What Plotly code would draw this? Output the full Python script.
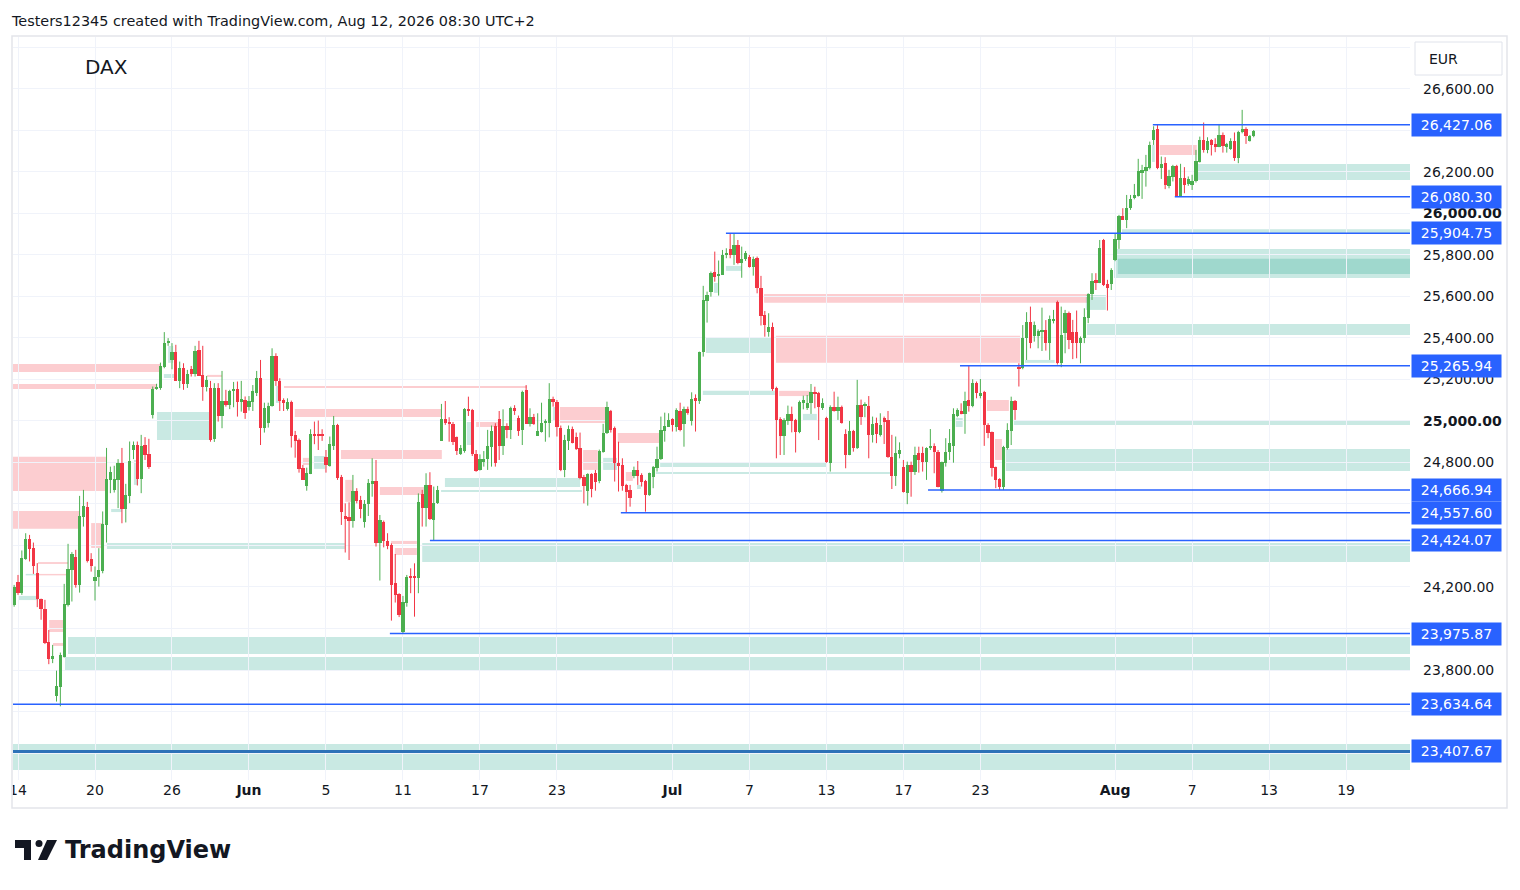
import plotly.graph_objects as go

# DAX, 2h candles from 13 May to 12 Aug 2026 (bar index on the x axis)
opens = [
    24111, 24225, 24173, 24337, 24432, 24388, 24266, 24141, 24093, 23936,
    23852, 23675, 23720, 23865, 24114, 24282, 24344, 24210, 24539, 24584,
    24334, 24231, 24246, 24279, 24501, 24716, 24668, 24716, 24796, 24578,
    24639, 24861, 24885, 24721, 24885, 24840, 25029, 25153, 25158, 25262,
    25375, 25294, 25330, 25193, 25254, 25179, 25249, 25227, 25342, 25222,
    25166, 25158, 24914, 25158, 25024, 25097, 25078, 25142, 25153, 25089,
    25102, 25069, 25093, 25136, 25206, 24968, 24989, 25072, 25313, 25194,
    25101, 25059, 25093, 24933, 24908, 24772, 24688, 24744, 24936, 24933,
    24933, 24828, 24783, 24880, 24981, 24732, 24542, 24539, 24520, 24663,
    24619, 24515, 24600, 24696, 24711, 24414, 24515, 24422, 24403, 24218,
    24165, 23985, 24125, 24253, 24253, 24245, 24647, 24582, 24692, 24523,
    24603, 24905, 25008, 24997, 24986, 24921, 24841, 24857, 25058, 25053,
    24841, 24764, 24804, 24817, 24876, 24976, 25008, 24880, 24976, 24957,
    25061, 25016, 24957, 25149, 24986, 25021, 24928, 24949, 24989, 24992,
    25104, 25093, 24968, 24764, 24905, 24962, 24925, 24868, 24732, 24664,
    24745, 24751, 24713, 24852, 24941, 25048, 24965, 24799, 24788, 24692,
    24668, 24735, 24764, 24740, 24711, 24644, 24732, 24775, 24815, 24954,
    24973, 25010, 24973, 25050, 24986, 25058, 25002, 25109, 25098, 25331,
    25578, 25623, 25719, 25700, 25704, 25800, 25829, 25800, 25848, 25760,
    25781, 25789, 25744, 25784, 25639, 25511, 25431, 25455, 25161, 25008,
    24928, 25002, 25034, 25005, 24946, 25088, 25064, 25085, 25141, 25136,
    25064, 25016, 24799, 25069, 25048, 25069, 24937, 24837, 24952, 24872,
    25077, 25074, 25072, 24933, 24989, 24933, 25013, 25005, 24828, 24737,
    24842, 24780, 24655, 24788, 24756, 24844, 24844, 24804, 24871, 24881,
    24852, 24664, 24799, 24849, 24881, 25024, 25048, 25034, 25101, 25072,
    25185, 25121, 25140, 24981, 24946, 24777, 24719, 24680, 24868, 24952,
    25098, 25262, 25254, 25398, 25475, 25409, 25411, 25433, 25438, 25377,
    25486, 25575, 25278, 25422, 25522, 25428, 25428, 25378, 25399, 25495,
    25611, 25680, 25667, 25872, 25660, 25659, 25776, 25872, 25988, 25969,
    26025, 26073, 26084, 26194, 26206, 26218, 26354, 26406, 26218, 26242,
    26133, 26175, 26229, 26080, 26170, 26141, 26138, 26154, 26250, 26354,
    26306, 26354, 26335, 26322, 26378, 26322, 26309, 26349, 26269, 26390,
    26406, 26351, 26374,
]
highs = [
    24210, 24258, 24376, 24459, 24451, 24414, 24315, 24144, 24138, 23993,
    23921, 23797, 23884, 24215, 24408, 24368, 24379, 24639, 24668, 24610,
    24363, 24299, 24387, 24564, 24870, 24780, 24784, 24816, 24870, 24697,
    24901, 24901, 24901, 24933, 24922, 24914, 25166, 25179, 25281, 25428,
    25399, 25375, 25367, 25286, 25278, 25246, 25265, 25362, 25386, 25362,
    25217, 25193, 25182, 25182, 25241, 25150, 25150, 25188, 25190, 25193,
    25118, 25120, 25173, 25241, 25294, 25088, 25088, 25350, 25326, 25206,
    25109, 25109, 25098, 24952, 24915, 24788, 24775, 24960, 24997, 25002,
    24960, 24860, 24925, 25024, 24986, 24740, 24603, 24608, 24740, 24676,
    24639, 24619, 24720, 24820, 24812, 24547, 24520, 24459, 24410, 24359,
    24170, 24157, 24258, 24290, 24314, 24651, 24668, 24748, 24753, 24684,
    24687, 25082, 25096, 25018, 24995, 24925, 24884, 25062, 25117, 25058,
    24860, 24839, 24855, 24957, 24978, 24989, 25048, 25056, 24989, 25069,
    25076, 25026, 25146, 25173, 25061, 25034, 25037, 25088, 25008, 25182,
    25117, 25101, 24978, 24933, 24978, 24973, 24944, 24944, 24740, 24748,
    24748, 24764, 24862, 24986, 25093, 25053, 24973, 24900, 24820, 24697,
    24692, 24780, 24807, 24748, 24716, 24751, 24783, 24876, 25021, 25040,
    25037, 25013, 25061, 25088, 25069, 25069, 25138, 25128, 25334, 25651,
    25623, 25720, 25816, 25773, 25824, 25832, 25904, 25904, 25872, 25840,
    25819, 25800, 25792, 25792, 25699, 25530, 25519, 25474, 25165, 25018,
    25013, 25074, 25069, 25010, 25098, 25122, 25125, 25178, 25165, 25140,
    25109, 25020, 25075, 25141, 25117, 25074, 24960, 25000, 24957, 25198,
    25103, 25090, 25120, 25021, 25016, 25037, 25021, 25048, 24933, 24925,
    24897, 24812, 24804, 24804, 24876, 24876, 24876, 24873, 24961, 24892,
    24860, 24804, 24917, 24961, 25061, 25061, 25085, 25141, 25266, 25201,
    25190, 25202, 25145, 24989, 24949, 24780, 24724, 24880, 24989, 25117,
    25101, 25278, 25462, 25524, 25551, 25479, 25441, 25546, 25486, 25508,
    25535, 25580, 25551, 25535, 25527, 25487, 25532, 25407, 25543, 25615,
    25712, 25712, 25872, 25877, 25680, 25736, 25905, 25993, 26025, 26089,
    26089, 26142, 26263, 26234, 26282, 26346, 26420, 26427, 26274, 26271,
    26210, 26234, 26234, 26239, 26223, 26178, 26186, 26306, 26370, 26438,
    26367, 26358, 26362, 26431, 26390, 26340, 26362, 26390, 26398, 26499,
    26415, 26378, 26402,
]
lows = [
    24105, 24162, 24162, 24331, 24323, 24263, 24103, 24042, 23925, 23828,
    23833, 23648, 23625, 23860, 24106, 24130, 24197, 24173, 24491, 24318,
    24274, 24135, 24202, 24266, 24414, 24652, 24655, 24580, 24507, 24511,
    24604, 24816, 24689, 24652, 24812, 24769, 25012, 25150, 25150, 25254,
    25362, 25249, 25193, 25158, 25150, 25159, 25214, 25214, 25217, 25097,
    25142, 24900, 24899, 24997, 24965, 25069, 25057, 25066, 25021, 25045,
    25010, 25050, 25048, 25120, 24884, 24944, 24968, 25069, 25169, 25048,
    25048, 25050, 24872, 24823, 24751, 24716, 24664, 24744, 24888, 24860,
    24904, 24751, 24780, 24860, 24716, 24499, 24366, 24330, 24486, 24603,
    24531, 24486, 24542, 24635, 24395, 24231, 24391, 24382, 24038, 24125,
    24055, 23976, 24105, 24170, 24057, 24170, 24491, 24491, 24523, 24424,
    24600, 24904, 24981, 24900, 24884, 24836, 24836, 24847, 25024, 24831,
    24755, 24761, 24780, 24764, 24780, 24780, 24812, 24836, 24917, 24913,
    25029, 24928, 24884, 24986, 24973, 24981, 24928, 24944, 24900, 24921,
    25069, 24925, 24758, 24729, 24860, 24892, 24860, 24719, 24603, 24592,
    24632, 24664, 24700, 24847, 24937, 24944, 24708, 24660, 24664, 24558,
    24587, 24724, 24692, 24684, 24563, 24639, 24676, 24756, 24812, 24900,
    24973, 24949, 24949, 24950, 24876, 25030, 24978, 24949, 25082, 25310,
    25474, 25599, 25671, 25604, 25704, 25784, 25784, 25752, 25755, 25690,
    25771, 25739, 25700, 25615, 25460, 25406, 25406, 25145, 24820, 24836,
    24836, 24981, 24945, 24848, 24941, 25056, 25053, 25034, 25061, 24908,
    25053, 24798, 24756, 25045, 25005, 24987, 24772, 24835, 24852, 24865,
    24981, 25018, 24820, 24896, 24893, 24925, 24889, 24822, 24672, 24687,
    24820, 24655, 24599, 24635, 24740, 24751, 24756, 24716, 24860, 24748,
    24680, 24655, 24780, 24812, 24799, 25018, 25032, 24938, 25045, 25066,
    25109, 25109, 24880, 24917, 24732, 24676, 24667, 24667, 24862, 24884,
    25005, 25166, 25249, 25294, 25350, 25382, 25350, 25337, 25339, 25294,
    25470, 25272, 25259, 25326, 25346, 25298, 25302, 25278, 25375, 25471,
    25583, 25631, 25664, 25650, 25532, 25631, 25770, 25829, 25969, 25929,
    26017, 26068, 26081, 26070, 26129, 26212, 26330, 26213, 26166, 26117,
    26121, 26154, 26080, 26080, 26097, 26133, 26113, 26149, 26245, 26293,
    26290, 26279, 26295, 26319, 26293, 26293, 26306, 26253, 26242, 26386,
    26335, 26346, 26367,
]
closes = [
    24202, 24173, 24340, 24432, 24385, 24299, 24141, 24093, 23932, 23852,
    23868, 23724, 23873, 24119, 24286, 24360, 24210, 24543, 24591, 24327,
    24299, 24249, 24282, 24504, 24719, 24755, 24719, 24796, 24578, 24644,
    24806, 24885, 24721, 24880, 24837, 24776, 25155, 25166, 25265, 25375,
    25386, 25330, 25193, 25254, 25179, 25227, 25227, 25338, 25217, 25166,
    25198, 24909, 25158, 25024, 25097, 25078, 25145, 25153, 25089, 25105,
    25040, 25096, 25145, 25206, 24968, 25061, 25072, 25313, 25194, 25098,
    25088, 25093, 24928, 24904, 24769, 24716, 24748, 24937, 24931, 24928,
    24928, 24788, 24888, 24981, 24727, 24563, 24528, 24520, 24663, 24615,
    24576, 24600, 24703, 24711, 24414, 24523, 24422, 24398, 24210, 24162,
    24065, 24128, 24250, 24247, 24242, 24608, 24582, 24692, 24526, 24607,
    24668, 25008, 24992, 24984, 24900, 24857, 24868, 25058, 25050, 24841,
    24761, 24815, 24819, 24880, 24954, 24796, 24880, 24976, 24957, 25061,
    25048, 24953, 25141, 24986, 25021, 24986, 24953, 24989, 25002, 25104,
    25093, 24973, 24764, 24909, 24962, 24896, 24864, 24724, 24689, 24745,
    24674, 24708, 24857, 24942, 25069, 24957, 24796, 24783, 24687, 24660,
    24631, 24764, 24735, 24706, 24644, 24748, 24780, 24817, 24957, 24976,
    25005, 24981, 25053, 24958, 25058, 25040, 25106, 25098, 25331, 25583,
    25607, 25711, 25695, 25707, 25800, 25810, 25800, 25848, 25760, 25781,
    25808, 25744, 25781, 25639, 25508, 25460, 25455, 25153, 25005, 24928,
    25005, 25034, 25002, 24946, 25093, 25101, 25085, 25138, 25133, 25069,
    25085, 24804, 25069, 25050, 25069, 24992, 24836, 24952, 24872, 25077,
    25018, 25082, 24933, 24986, 24936, 24981, 24997, 24828, 24737, 24848,
    24861, 24660, 24788, 24756, 24836, 24812, 24804, 24871, 24881, 24852,
    24684, 24801, 24849, 24892, 25032, 25053, 25034, 25098, 25072, 25185,
    25133, 25133, 24981, 24944, 24775, 24716, 24680, 24876, 24957, 25098,
    25053, 25254, 25398, 25475, 25377, 25462, 25433, 25438, 25377, 25491,
    25491, 25278, 25414, 25522, 25390, 25378, 25378, 25402, 25500, 25611,
    25672, 25667, 25832, 25656, 25643, 25728, 25876, 25988, 25969, 26025,
    26068, 26089, 26206, 26210, 26223, 26330, 26402, 26218, 26239, 26138,
    26181, 26229, 26080, 26170, 26138, 26166, 26158, 26253, 26354, 26306,
    26351, 26330, 26322, 26378, 26325, 26335, 26351, 26269, 26394, 26406,
    26374, 26374, 26398,
]

# time axis (bar index of each labelled day)
tick_bars = [1, 21, 41, 61, 81, 101, 121, 141, 171, 191, 211, 231, 251, 286, 306, 326, 346]
tick_labels = ['14', '20', '26', '<b>Jun</b>', '5', '11', '17', '23', '<b>Jul</b>',
               '7', '13', '17', '23', '<b>Aug</b>', '7', '13', '19']

# price axis
price_ticks = [23400, 23600, 23800, 24000, 24200, 24400, 24600, 24800, 25000,
               25200, 25400, 25600, 25800, 26000, 26200, 26400, 26600, 26800]
price_labels = ['', '', '23,800.00', '24,000.00', '24,200.00', '', '', '24,800.00',
                '<b>25,000.00</b>', '25,200.00', '25,400.00', '25,600.00', '25,800.00',
                '<b>26,000.00</b>', '26,200.00', '', '26,600.00', '']

# horizontal levels: price and first bar
level_prices = [26427.06, 26080.30, 25904.75, 25265.94, 24666.94,
                24557.60, 24424.07, 23975.87, 23634.64]
level_start = [295.8, 301.5, 184.9, 245.7, 237.4, 157.6, 108.0, 97.6, -0.3]
base_level = 23407.67

# zones: (first bar, last bar or None = right edge, top, bottom)
supply_zones = [
    (-0.3, 37.9, 25275, 25236), (-0.3, 37.1, 25178, 25154), (-0.3, 24.1, 24827, 24663),
    (-0.3, 17.1, 24566, 24480), (20.0, 23.1, 24508, 24388), (6.2, 14.0, 24320, 24311),
    (6.2, 13.5, 24263, 24256), (9.1, 13.2, 24041, 23983), (10.1, 13.2, 23930, 23916),
    (50.1, 54.0, 25222, 25212), (70.1, 133.2, 25169, 25159), (72.9, 111.0, 25058, 25019),
    (84.9, 111.1, 24860, 24817), (95.0, 106.7, 24682, 24643), (97.9, 104.6, 24422, 24407),
    (98.9, 104.6, 24388, 24354), (86.0, 88.0, 24716, 24610), (75.0, 77.4, 24822, 24788),
    (120.0, 125.7, 24995, 24971), (141.8, 153.7, 25067, 24990), (147.8, 151.6, 24860, 24764),
    (156.8, 167.5, 24942, 24894), (158.9, 160.7, 24754, 24711), (194.8, 278.7, 25612, 25569),
    (197.9, 261.3, 25410, 25280), (198.7, 206.7, 25145, 25120), (252.7, 258.4, 25101, 25048),
    (254.8, 256.6, 24913, 24812), (297.6, 307.2, 26330, 26282),
]
demand_zones = [
    (37.1, 50.9, 25043, 24908), (38.9, 41.8, 25226, 25207), (40.0, 41.3, 25361, 25280),
    (24.1, 85.9, 24412, 24383), (1.0, 6.2, 24157, 24137), (3.0, 6.2, 24263, 24256),
    (25.2, 28.0, 24576, 24561), (31.1, 32.2, 24812, 24692), (14.0, None, 23959, 23877),
    (13.2, None, 23863, 23795), (106.0, None, 24412, 24320), (111.9, 147.0, 24725, 24682),
    (110.9, 147.5, 24667, 24658), (77.9, 81.0, 24831, 24769), (68.0, 68.8, 25169, 25087),
    (117.6, 118.7, 24995, 24884), (140.0, 141.0, 25067, 25000), (153.0, 156.6, 24822, 24764),
    (161.8, 162.8, 24692, 24672), (167.8, 211.1, 24802, 24778), (166.7, 227.5, 24754, 24745),
    (179.7, 196.6, 25405, 25328), (178.9, 197.6, 25145, 25125), (184.9, 189.0, 25747, 25723),
    (181.8, 182.8, 25665, 25617), (204.9, 208.5, 25034, 25000), (244.6, 246.4, 25014, 24971),
    (259.7, None, 25005, 24981), (257.6, None, 24865, 24759), (262.6, 270.3, 25294, 25280),
    (278.4, 283.6, 25607, 25535), (278.7, None, 25467, 25414), (285.7, None, 25829, 25689),
    (286.7, None, 25781, 25708), (287.8, None, 25924, 25906), (295.6, 296.3, 26330, 26248),
    (307.5, None, 26238, 26161), (-0.3, None, 23443, 23318),
]

GREEN = '#4CAF50'
RED = '#F23645'
BLUE = '#2962FF'
TEXT = '#131722'
FONT = 'DejaVu Sans'

X_MIN, X_MAX = -0.3, 362.6
Y_MIN, Y_MAX = 23270, 26850

# the page body has an 8px margin, so the figure is 16px smaller than the window
# and all pixel positions below are window pixels shifted by that margin
PAGE_MARGIN = 8
W, H = 1520 - 2 * PAGE_MARGIN, 890 - 2 * PAGE_MARGIN
PL, PR, PT, PB = 13, 1410, 37, 780  # plot area, window pixels


def px(x):
    return (x - PL) / (PR - PL)


def py(y):
    return (PB - y) / (PB - PT)


fig = go.Figure()

n = len(closes)
up = [i for i in range(n) if closes[i] >= opens[i]]
down = [i for i in range(n) if closes[i] < opens[i]]

for idx, col in ((up, GREEN), (down, RED)):
    wx, wy = [], []
    for i in idx:
        wx += [i, i, None]
        wy += [lows[i], highs[i], None]
    fig.add_trace(go.Scatter(x=wx, y=wy, mode='lines', line=dict(color=col, width=1),
                             hoverinfo='skip', showlegend=False))
    fig.add_trace(go.Bar(
        x=idx,
        base=[min(opens[i], closes[i]) for i in idx],
        y=[max(abs(closes[i] - opens[i]), 5) for i in idx],
        width=0.85, marker=dict(color=col, line=dict(width=0)),
        hoverinfo='skip', showlegend=False,
    ))

# zones
for zones, fill in ((supply_zones, 'rgba(242,54,69,0.25)'), (demand_zones, 'rgba(8,153,129,0.22)')):
    for x0, x1, top, bot in zones:
        fig.add_shape(type='rect', xref='x', yref='y', x0=x0, x1=X_MAX if x1 is None else x1,
                      y0=bot, y1=top, fillcolor=fill, line=dict(width=0), layer='below')

# levels
for p, s in zip(level_prices, level_start):
    fig.add_shape(type='line', xref='x', yref='y', x0=s, x1=X_MAX, y0=p, y1=p,
                  line=dict(color=BLUE, width=1.5))
fig.add_shape(type='line', xref='x', yref='y', x0=X_MIN, x1=X_MAX, y0=base_level, y1=base_level,
              line=dict(color='#2E72B8', width=3))

# price tags
for p in level_prices + [base_level]:
    fig.add_annotation(x=1, xref='paper', xanchor='left', xshift=1, y=p, yref='y',
                       yanchor='middle', text=f'{p:,.2f}', showarrow=False, bgcolor=BLUE,
                       width=83, align='center', borderpad=3,
                       font=dict(family=FONT, size=14, color='white'))

# white strip left of the chart frame clips the first date label, then the frame itself
fig.add_shape(type='rect', xref='paper', yref='paper', x0=px(0), x1=px(12.5), y0=py(806), y1=py(781),
              fillcolor='white', line=dict(width=0), layer='above')
fig.add_shape(type='rect', xref='paper', yref='paper', x0=px(12), x1=px(1507), y0=py(808), y1=py(36),
              line=dict(color='#e3e5ea', width=1.5), layer='above')
fig.add_shape(type='rect', xref='paper', yref='paper', x0=px(1415), x1=px(1502), y0=py(75), y1=py(42),
              line=dict(color='#e0e3eb', width=1), fillcolor='white')
fig.add_annotation(x=px(1427), y=py(59), xref='paper', yref='paper', xanchor='left', yanchor='middle',
                   text='EUR', showarrow=False, font=dict(family=FONT, size=14, color=TEXT))
fig.add_annotation(x=px(12), y=py(21), xref='paper', yref='paper', xanchor='left', yanchor='middle',
                   xshift=-3, text='Testers12345 created with TradingView.com, Aug 12, 2026 08:30 UTC+2',
                   showarrow=False, font=dict(family=FONT, size=14.4, color=TEXT))
fig.add_annotation(x=px(83), y=py(67), xref='paper', yref='paper', xanchor='left', yanchor='middle',
                   text='DAX', showarrow=False, font=dict(family=FONT, size=20, color=TEXT))


def pp(x, y):
    return f'{px(x):.5f},{py(y):.5f}'


fig.add_shape(type='path', xref='paper', yref='paper', fillcolor=TEXT, line=dict(width=0),
              path=f'M{pp(15, 840)} L{pp(31, 840)} L{pp(31, 860)} L{pp(24, 860)} '
                   f'L{pp(24, 848)} L{pp(15, 848)} Z')
fig.add_shape(type='circle', xref='paper', yref='paper', fillcolor=TEXT, line=dict(width=0),
              x0=px(35.5), x1=px(42.5), y0=py(847), y1=py(840))
fig.add_shape(type='path', xref='paper', yref='paper', fillcolor=TEXT, line=dict(width=0),
              path=f'M{pp(47, 840)} L{pp(57, 840)} L{pp(47, 860)} L{pp(38, 860)} Z')
fig.add_annotation(x=px(63), y=py(850), xref='paper', yref='paper', xanchor='left', yanchor='middle',
                   text='<b>TradingView</b>', showarrow=False,
                   font=dict(family=FONT, size=24, color=TEXT))

fig.update_layout(
    width=W, height=H,
    margin=dict(l=PL - PAGE_MARGIN, r=W - (PR - PAGE_MARGIN),
                t=PT - PAGE_MARGIN, b=H - (PB - PAGE_MARGIN)),
    paper_bgcolor='white', plot_bgcolor='white',
    barmode='overlay', bargap=0, showlegend=False,
    font=dict(family=FONT, size=14, color=TEXT),
    xaxis=dict(range=[X_MIN, X_MAX], tickvals=tick_bars, ticktext=tick_labels, automargin=False,
               showgrid=True, gridcolor='#f0f3fa', zeroline=False, showline=False,
               ticks='', ticklabelstandoff=0, tickfont=dict(size=14, color=TEXT)),
    yaxis=dict(side='right', range=[Y_MIN, Y_MAX], tickvals=price_ticks, ticktext=price_labels,
               automargin=False, showgrid=True, gridcolor='#f0f3fa', zeroline=False, showline=False,
               ticks='', ticklabelstandoff=12, tickfont=dict(size=14, color=TEXT)),
)

fig.write_html('out.html')
